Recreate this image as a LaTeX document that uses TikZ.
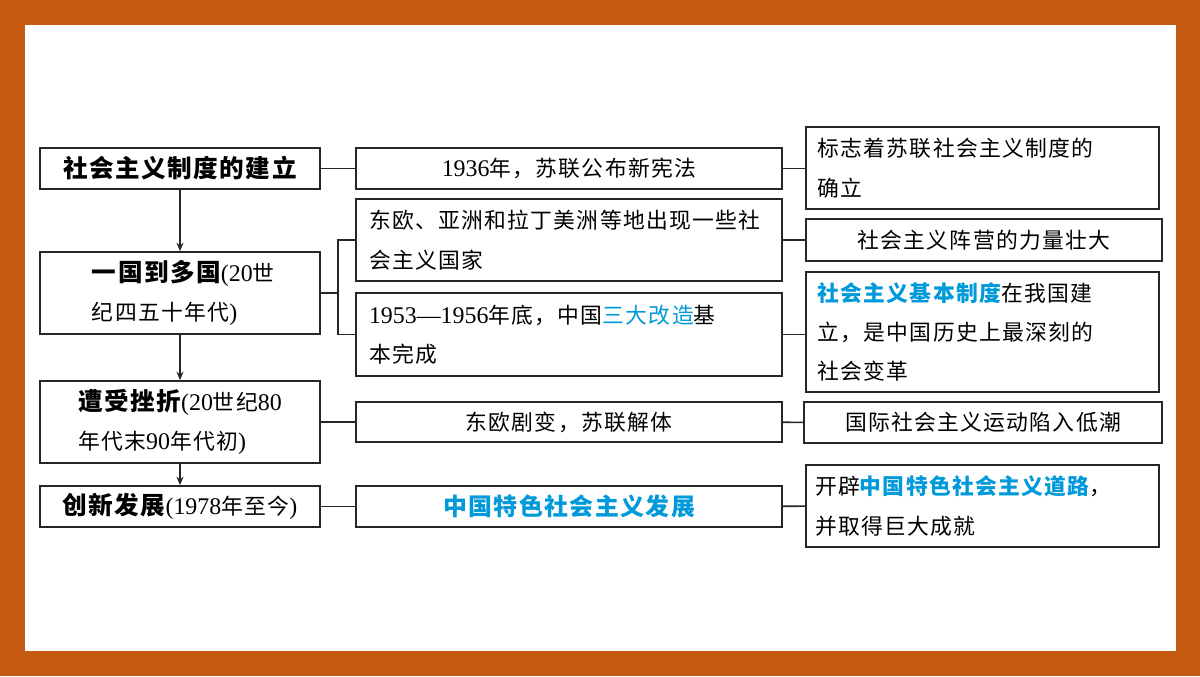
\documentclass[tikz,border=0pt]{standalone}
\usepackage{fontspec}
\setmainfont[LetterSpace=6]{Noto Sans CJK SC}
\newfontfamily\numf{Liberation Serif}
\usetikzlibrary{arrows.meta}
\tikzset{%%
  >={Stealth[length=6pt,width=5pt]},
  box/.style={draw=black!85, line width=1.2pt, inner sep=0pt, font=\fontsize{15.5}{28}\selectfont},
  link/.style={black!85, line width=1.1pt}
  }
\definecolor{frameOrange}{RGB}{197, 90, 17}
\definecolor{keyBlue}{RGB}{0, 153, 217}
\newcommand{\nm}[1]{{\numf\fontsize{17}{28}\selectfont #1}}
\newcommand{\hl}[1]{\textcolor{keyBlue}{#1}}
\newcommand{\ttl}[1]{{\fontsize{17.5}{28}\selectfont\bfseries #1}}

\begin{document}
\begin{tikzpicture}[x=0.025cm, y=-0.025cm]
  \fill[frameOrange] (0,0) rectangle (1200,676);
  \fill[white] (25,25) rectangle (1176,651);
  % left column
  \node[box, minimum width=280*0.025cm, minimum height=41*0.025cm] (est) at (180,168.5) {\ttl{社会主义制度的建立}};
  \node[box, minimum width=280*0.025cm, minimum height=82*0.025cm, align=left] (many) at (180,293) {\hspace{0.3em}\ttl{一国到多国}\nm{(20}世\\\hspace{0.3em}纪四五十年代\nm{)}};
  \node[box, minimum width=280*0.025cm, minimum height=82*0.025cm, align=left] (setb) at (180,422) {\ttl{遭受挫折}\nm{(20}世纪\nm{80}\\年代末\nm{90}年代初\nm{)}};
  \node[box, minimum width=280*0.025cm, minimum height=41*0.025cm] (inno) at (180,506.5) {\ttl{创新发展}\nm{(1978}年至今\nm{)}};
  % middle column
  \node[box, minimum width=426*0.025cm, minimum height=41*0.025cm] (m1) at (569,168.5) {\nm{1936}年，苏联公布新宪法};
  \node[box, minimum width=426*0.025cm, minimum height=82*0.025cm, text width=400*0.025cm, align=left] (m2) at (569,240) {东欧、亚洲和拉丁美洲等地出现一些社\\会主义国家};
  \node[box, minimum width=426*0.025cm, minimum height=83*0.025cm, text width=400*0.025cm, align=left] (m3) at (569,334.5) {\nm{1953—1956}年底，中国\hl{三大改造}基\\本完成};
  \node[box, minimum width=426*0.025cm, minimum height=40*0.025cm] (m4) at (569,422) {东欧剧变，苏联解体};
  \node[box, minimum width=426*0.025cm, minimum height=41*0.025cm] (m5) at (569,506.5) {\hl{\fontsize{17}{28}\selectfont\bfseries 中国特色社会主义发展}};
  % right column
  \node[box, minimum width=353*0.025cm, minimum height=82*0.025cm, text width=330*0.025cm, align=left] (r1) at (982.5,168) {标志着苏联社会主义制度的\\确立};
  \node[box, minimum width=356*0.025cm, minimum height=42*0.025cm] (r2) at (984,240) {社会主义阵营的力量壮大};
  \node[box, minimum width=353*0.025cm, minimum height=120*0.025cm, text width=330*0.025cm, align=left] (r3) at (982.5,332) {\hl{\bfseries 社会主义基本制度}在我国建\\立，是中国历史上最深刻的\\社会变革};
  \node[box, minimum width=358*0.025cm, minimum height=41*0.025cm] (r4) at (983,422.5) {国际社会主义运动陷入低潮};
  \node[box, minimum width=353*0.025cm, minimum height=82*0.025cm, text width=335*0.025cm, align=left] (r5) at (982.5,506) {开辟\hl{\bfseries 中国特色社会主义道路}，\\并取得巨大成就};
  % arrows down
  \draw[link, ->] (est) -- (many);
  \draw[link, ->] (many) -- (setb);
  \draw[link, ->] (setb) -- (inno);
  % links
  \draw[link] (est) -- (m1);
  \coordinate (fork) at (338,293);
  \draw[link] (many.east) -- (fork);
  \draw[link] (m2.west) -| (fork) |- (m3.west);
  \draw[link] (setb) -- (m4);
  \draw[link] (inno) -- (m5);
  \draw[link] (m1) -- (m1 -| r1.west);
  \draw[link] (m2) -- (r2);
  \draw[link] (m3) -- (m3 -| r3.west);
  \draw[link] (m4) -- (r4);
  \draw[link] (m5) -- (r5);
\end{tikzpicture}
\end{document}
